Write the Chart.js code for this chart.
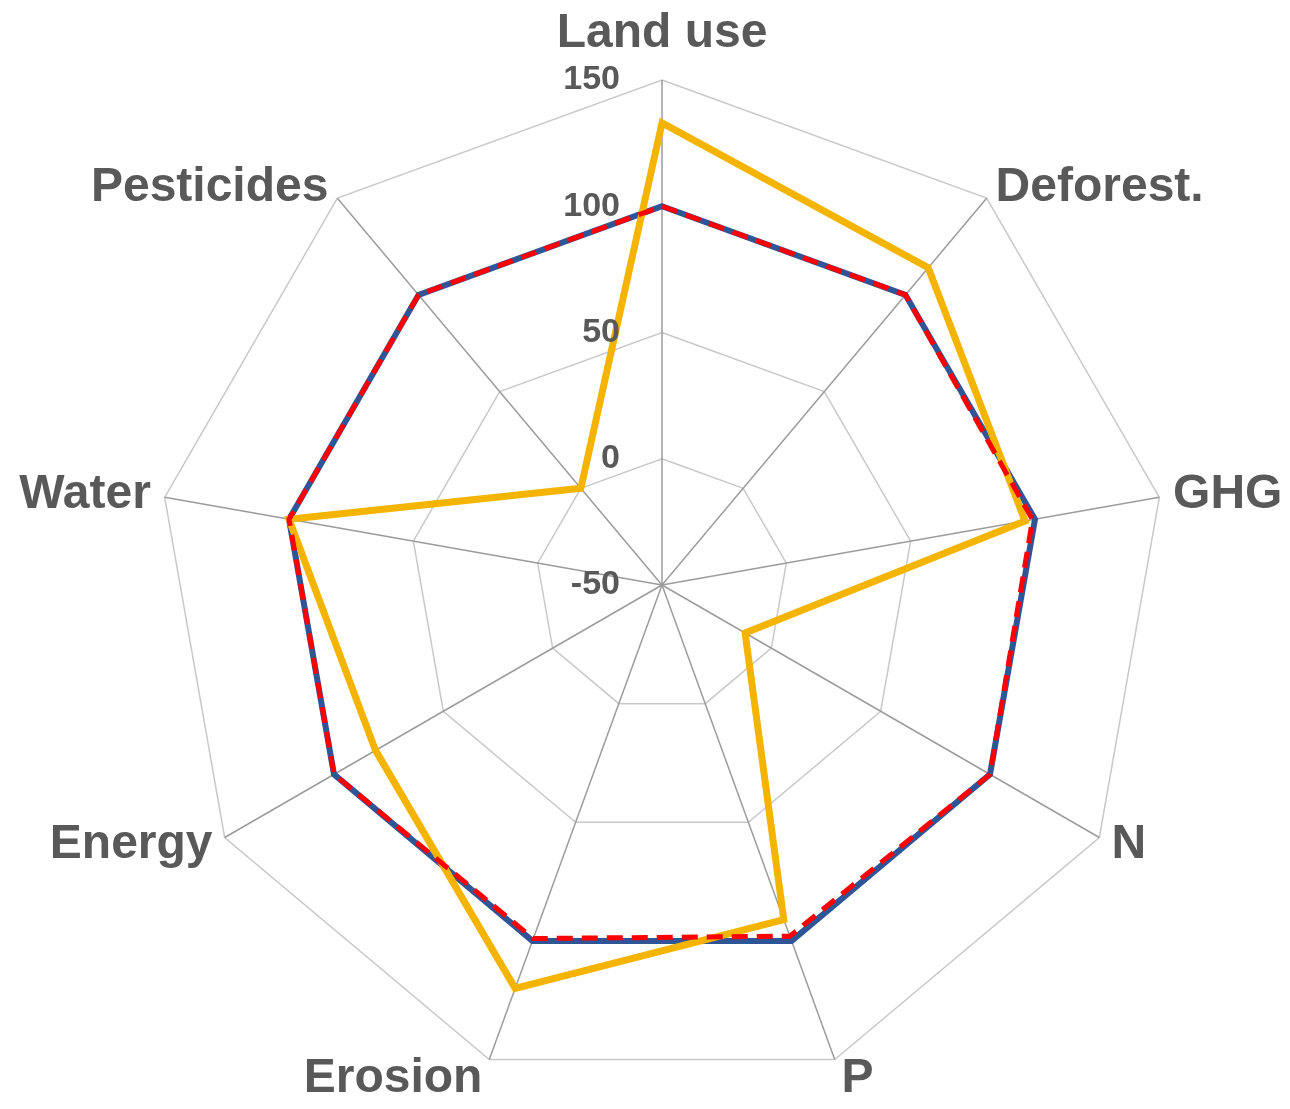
<!DOCTYPE html>
<html>
<head>
<meta charset="utf-8">
<script src="https://cdn.jsdelivr.net/npm/chart.js@4.4.1/dist/chart.umd.min.js"></script>
<style>
  html, body { margin: 0; padding: 0; background: #fff; }
  canvas { display: block; }
</style>
</head>
<body>
<canvas id="radar" width="1290" height="1109"></canvas>
<script>
const categories = ["Land use", "Deforest.", "GHG", "N", "P", "Erosion", "Energy", "Water", "Pesticides"];
const baseline = [100, 100, 100, 100, 100, 100, 100, 100, 100];
const dashed = [100, 100, 99, 100, 98, 99, 100, 100, 100];
const scenario = [133, 114, 96, -12, 91, 120, 81, 100, 0];
const tickValues = [-50, 0, 50, 100, 150];

const labelColor = "#595959";
const labelFont = "bold 48px 'Liberation Sans', Arial, sans-serif";
const tickFont = "bold 34px 'Liberation Sans', Arial, sans-serif";

// draws the spoke names and the value labels next to the top spoke
const radarText = {
  id: "radarText",
  afterDatasetsDraw(chart) {
    const scale = chart.scales.r;
    const ctx = chart.ctx;
    const outer = scale.getDistanceFromCenterForValue(scale.max);
    ctx.save();
    ctx.fillStyle = labelColor;

    ctx.font = tickFont;
    ctx.textAlign = "right";
    ctx.textBaseline = "middle";
    tickValues.forEach(v => {
      const d = scale.getDistanceFromCenterForValue(v);
      ctx.fillText(String(v), scale.xCenter - 42, scale.yCenter - d);
    });

    ctx.font = labelFont;
    categories.forEach((name, i) => {
      const deg = Math.round(scale.getIndexAngle(i) * 180 / Math.PI) % 360;
      let gap = 14;
      if (deg === 0) gap = 22;
      else if (deg > 140 && deg < 220) gap = 20;
      const p = scale.getPointPosition(i, outer + gap);
      ctx.textAlign = (deg === 0 || deg === 180) ? "center" : (deg < 180 ? "left" : "right");
      ctx.textBaseline = deg === 0 ? "bottom" : "middle";
      ctx.fillText(name, p.x, p.y);
    });
    ctx.restore();
  }
};

new Chart(document.getElementById("radar"), {
  type: "radar",
  data: {
    labels: categories,
    datasets: [
      { label: "dashed", data: dashed, borderColor: "#ff0000", borderWidth: 5, borderDash: [16, 9], fill: false, pointRadius: 0 },
      { label: "scenario", data: scenario, borderColor: "#f4b400", borderWidth: 7, fill: false, pointRadius: 0 },
      { label: "baseline", data: baseline, borderColor: "#2f5597", borderWidth: 6, fill: false, pointRadius: 0 }
    ]
  },
  options: {
    responsive: false,
    animation: false,
    layout: { padding: { left: 157, right: 123, top: 80, bottom: 19 } },
    plugins: { legend: { display: false }, tooltip: { enabled: false } },
    elements: { line: { tension: 0, borderJoinStyle: "miter" } },
    scales: {
      r: {
        min: -50,
        max: 150,
        ticks: { display: false, stepSize: 50 },
        grid: { color: "#c9c9c9", lineWidth: 1.5 },
        angleLines: { color: "#9c9c9c", lineWidth: 1.5 },
        pointLabels: { display: false }
      }
    }
  },
  plugins: [radarText]
});
</script>
</body>
</html>
